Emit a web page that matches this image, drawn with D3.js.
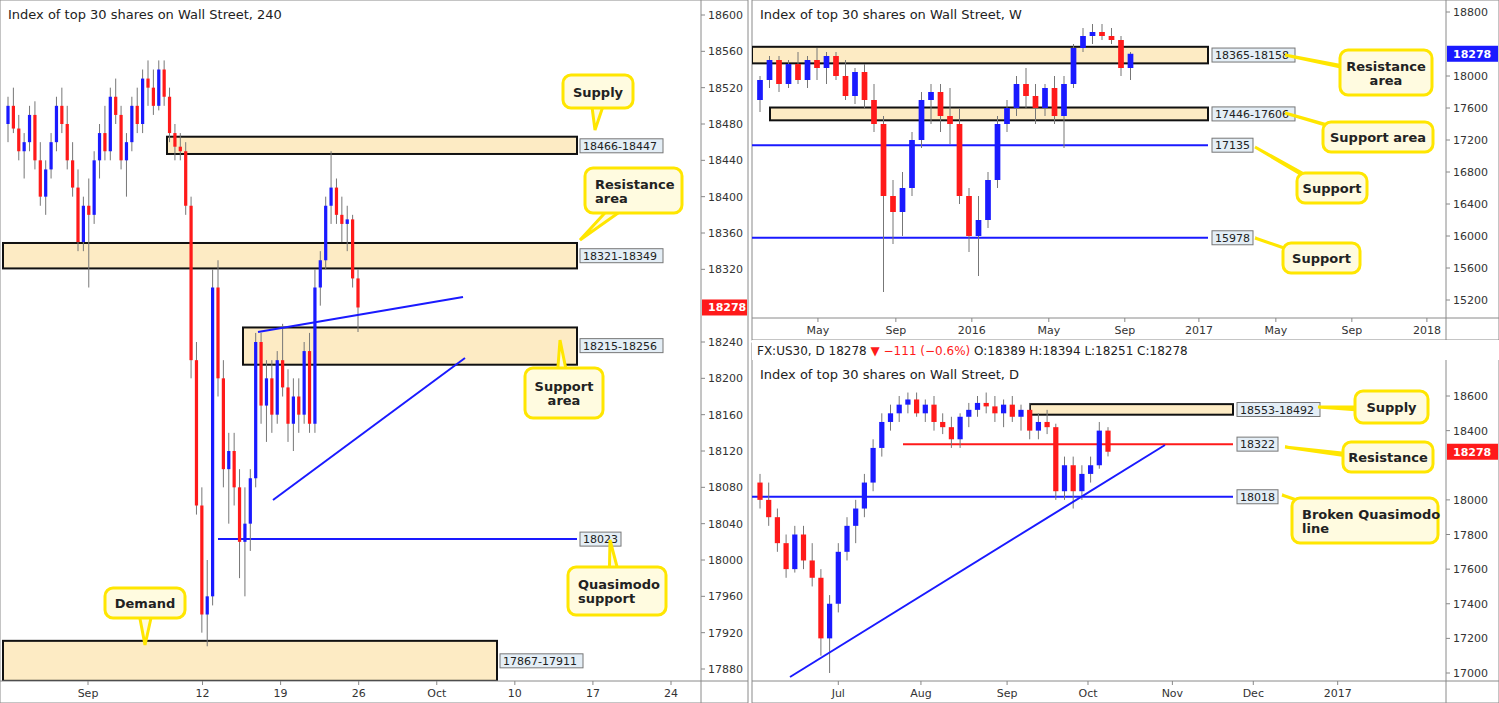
<!DOCTYPE html>
<html><head><meta charset="utf-8">
<script src="https://cdn.jsdelivr.net/npm/d3@7"></script>
<style>body{margin:0;background:#fff;font-family:"DejaVu Sans",sans-serif}</style>
</head><body>
<svg id="c" width="1499" height="703"></svg>
<script>
// ---- data ----
var h4Candles = [
[18480,18510,18460,18500],[18500,18520,18470,18475],[18475,18490,18440,18450],[18450,18470,18420,18460],[18460,18500,18450,18490],[18490,18505,18430,18440],[18440,18460,18390,18400],[18400,18440,18380,18430],[18430,18470,18420,18460],[18460,18510,18450,18500],[18500,18520,18470,18480],[18480,18500,18430,18440],[18440,18460,18400,18410],[18410,18430,18340,18350],[18350,18400,18340,18390],[18390,18420,18300,18380],
[18380,18450,18370,18440],[18440,18480,18420,18470],[18470,18500,18440,18450],[18450,18520,18440,18510],[18510,18530,18480,18490],[18490,18500,18430,18440],[18440,18470,18400,18460],[18460,18510,18450,18500],[18500,18520,18470,18480],[18480,18540,18470,18530],[18530,18550,18500,18520],[18520,18540,18490,18500],[18500,18550,18495,18540],[18540,18550,18500,18510],[18510,18520,18460,18470],[18470,18480,18440,18455],[18455,18470,18440,18450],[18450,18460,18380,18390],
[18390,18400,18200,18220],[18220,18240,18050,18060],[18060,18080,17920,17940],[17940,18000,17905,17960],
[17960,18320,17950,18300],[18300,18330,18180,18200],[18200,18220,18080,18100],
[18100,18140,18040,18120],[18120,18140,18060,18080],[18080,18100,17980,18020],
[18020,18080,17960,18040],[18040,18100,18010,18090],[18090,18250,18080,18240],
[18240,18250,18150,18170],[18170,18220,18130,18200],[18200,18220,18140,18160],
[18160,18230,18150,18220],[18220,18260,18180,18190],[18190,18210,18130,18150],
[18150,18200,18120,18180],[18180,18200,18140,18160],[18160,18240,18150,18230],
[18230,18250,18140,18150],[18150,18320,18140,18300],[18300,18340,18280,18330],
[18330,18400,18320,18390],[18390,18450,18370,18410],[18410,18420,18370,18380],
[18380,18400,18350,18370],[18370,18390,18340,18375],[18375,18380,18300,18310],
[18310,18320,18251,18278]
];
var h4Ticks = [[16,"Sep"],[38,"12"],[53,"19"],[68,"26"],[83,"Oct"],[98,"10"],[113,"17"],[128,"24"]];

var wCandles = [
[17700,18000,17550,17950],[17950,18250,17850,18200],[18200,18250,17800,17900],[17900,18200,17850,18150],[18150,18300,17900,17950],[17950,18250,17850,18200],[18200,18350,17950,18100],[18100,18300,17900,18250],[18250,18300,17950,18000],[18000,18200,17700,17750],[17750,18100,17650,18050],[18050,18150,17600,17700],[17700,17900,17300,17400],[17400,17500,15300,16500],[16500,16700,15900,16300],[16300,16800,16000,16600],[16600,17300,16500,17200],[17200,17800,17100,17700],[17700,17900,17400,17800],[17800,17900,17300,17500],[17500,17850,17150,17400],[17400,17600,16400,16500],[16500,16600,15800,16000],[16000,16500,15500,16200],[16200,16800,16100,16700],[16700,17500,16600,17400],[17400,17700,17300,17600],[17600,18000,17500,17900],[17900,18100,17600,17750],[17750,17900,17400,17600],[17600,17900,17500,17850],[17850,18000,17400,17500],[17500,18000,17100,17900],[17900,18400,17850,18350],[18350,18600,18300,18500],[18500,18650,18400,18550],[18550,18650,18450,18500],[18500,18600,18400,18450],[18450,18500,18000,18100],[18100,18300,17950,18278]
];
var wTicks = [[6.1,"May"],[14.3,"Sep"],[22.3,"2016"],[30.4,"May"],[38.4,"Sep"],[46.2,"2017"],[54.3,"May"],[62.3,"Sep"],[70.2,"2018"]];

var dCandles = [
[18100,18150,17950,18000],[18000,18100,17850,17900],[17900,17950,17700,17750],[17750,17800,17550,17600],[17600,17850,17580,17800],[17800,17850,17600,17650],[17650,17750,17500,17550],[17550,17600,17100,17200],[17200,17450,17000,17400],[17400,17750,17350,17700],[17700,17900,17650,17850],[17850,18000,17750,17950],[17950,18150,17900,18100],[18100,18350,18050,18300],[18300,18500,18250,18450],[18450,18550,18400,18500],[18500,18600,18450,18550],[18550,18620,18500,18580],[18580,18620,18480,18500],[18500,18580,18450,18550],[18550,18600,18400,18450],[18450,18500,18380,18420],[18420,18480,18300,18350],[18350,18500,18300,18480],[18480,18560,18420,18520],[18520,18600,18480,18560],[18560,18620,18500,18540],[18540,18600,18450,18500],[18500,18580,18420,18550],[18550,18600,18450,18480],[18480,18550,18400,18520],[18520,18560,18350,18400],[18400,18500,18350,18450],[18450,18520,18380,18420],[18420,18440,18000,18050],[18050,18250,18000,18200],[18200,18250,17950,18050],[18050,18200,18000,18150],[18150,18250,18100,18200],[18200,18450,18180,18400],[18400,18420,18251,18278]
];
var dTicks = [[9,"Jul"],[18.5,"Aug"],[28.4,"Sep"],[37.7,"Oct"],[47.4,"Nov"],[56.7,"Dec"],[66.4,"2017"]];

var svg = d3.select("#c");
var ZONE = "#fdebc4", UP = "#1a1aff", DN = "#ff1a1a";

// panel helper
function panel(p) {
	var g = svg.append("g");
	g.append("rect").attr("x", p.x0).attr("y", p.y0).attr("width", p.x1 - p.x0).attr("height", p.y1 - p.y0)
		.attr("fill", "#fff").attr("stroke", "#8a8a8a");
	var plotR = p.axisX, plotB = p.y1 - 22;
	var y = d3.scaleLinear().domain(p.pd).range(p.pr);
	var x = d3.scaleLinear().domain([0, p.candles.length - 1]).range(p.xr);
	var gap = (p.xr[1] - p.xr[0]) / (p.candles.length - 1);
	var clip = "cl" + p.id;
	g.append("clipPath").attr("id", clip).append("rect").attr("x", p.x0).attr("y", p.plotTop).attr("width", plotR - p.x0).attr("height", plotB - p.plotTop);
	var pg = g.append("g").attr("clip-path", "url(#" + clip + ")");

	p.zones.forEach(function (z) {
		var yt = y(Math.max(z.a, z.b)), yb = y(Math.min(z.a, z.b));
		pg.append("rect").attr("x", z.x).attr("y", yt).attr("width", z.x2 - z.x).attr("height", yb - yt)
			.attr("fill", ZONE).attr("stroke", "#111").attr("stroke-width", 2);
	});
	p.lines.forEach(function (l) {
		pg.append("line").attr("x1", l.x).attr("x2", l.x2).attr("y1", y(l.v)).attr("y2", y(l.v))
			.attr("stroke", l.c).attr("stroke-width", 2);
	});
	var bw = Math.max(2, gap * 0.6);
	p.candles.forEach(function (c, i) {
		var col = c[3] >= c[0] ? UP : DN, cx = x(i);
		pg.append("line").attr("x1", cx).attr("x2", cx).attr("y1", y(c[1])).attr("y2", y(c[2])).attr("stroke", "#777").attr("stroke-width", 1);
		var t = y(Math.max(c[0], c[3])), b = y(Math.min(c[0], c[3]));
		pg.append("rect").attr("x", cx - bw / 2).attr("y", t).attr("width", bw).attr("height", Math.max(1, b - t)).attr("fill", col);
	});
	p.trend.forEach(function (t) {
		pg.append("line").attr("x1", t[0]).attr("y1", t[1]).attr("x2", t[2]).attr("y2", t[3]).attr("stroke", UP).attr("stroke-width", 2);
	});
	p.labels.forEach(function (l) {
		var w = l.t.length * 7 + 6;
		g.append("rect").attr("x", l.x).attr("y", y(l.v) - 7).attr("width", w).attr("height", 14)
			.attr("fill", "#e4eef6").attr("stroke", "#777");
		g.append("text").attr("x", l.x + 3).attr("y", y(l.v) + 4).attr("font-size", 11).attr("fill", "#222").text(l.t);
	});
	g.append("line").attr("x1", plotR).attr("x2", plotR).attr("y1", p.plotTop).attr("y2", p.y1).attr("stroke", "#8a8a8a");
	g.append("line").attr("x1", p.x0).attr("x2", p.x1).attr("y1", plotB).attr("y2", plotB).attr("stroke", "#8a8a8a");
	d3.range(p.pd[1], p.pd[0] + 1, p.step).forEach(function (v) {
		if (y(v) < p.plotTop + 4 || y(v) > plotB - 4) return;
		if (Math.abs(y(v) - y(18278)) < 15) return;
		g.append("line").attr("x1", plotR).attr("x2", plotR + 4).attr("y1", y(v)).attr("y2", y(v)).attr("stroke", "#888");
		g.append("text").attr("x", plotR + 7).attr("y", y(v) + 4).attr("font-size", 11).attr("fill", "#333").text(v);
	});
	p.ticks.forEach(function (t) {
		var xx = x(t[0]);
		if (xx > plotR - 10) return;
		g.append("line").attr("x1", xx).attr("x2", xx).attr("y1", plotB).attr("y2", plotB + 4).attr("stroke", "#888");
		g.append("text").attr("x", xx).attr("y", plotB + 16).attr("text-anchor", "middle").attr("font-size", 11).attr("fill", "#333").text(t[1]);
	});
	g.append("rect").attr("x", plotR + 1).attr("y", y(18278) - 8).attr("width", p.x1 - plotR - 2).attr("height", 16).attr("fill", p.lastCol);
	g.append("text").attr("x", plotR + 7).attr("y", y(18278) + 4).attr("font-size", 11).attr("font-weight", "bold").attr("fill", "#fff").text("18278");
	g.append("text").attr("x", p.x0 + 8).attr("y", p.plotTop + 19).attr("font-size", 13).attr("fill", "#222").text(p.title);
	p.callouts.forEach(function (c) {
		var cg = g.append("g");
		var mx = c.x + c.w / 2, my = c.y + c.h / 2;
		cg.append("path").attr("d", "M" + (mx - 8) + "," + my + "L" + c.px + "," + c.py + "L" + (mx + 8) + "," + (my + 6) + "Z")
			.attr("fill", "#fffbe0").attr("stroke", "#ffe600").attr("stroke-width", 3);
		cg.append("rect").attr("x", c.x).attr("y", c.y).attr("width", c.w).attr("height", c.h).attr("rx", 8)
			.attr("fill", "#fffbe0").attr("stroke", "#ffe600").attr("stroke-width", 3);
		var lines = c.t.split("\n");
		lines.forEach(function (s, i) {
			cg.append("text").attr("x", c.x + (c.left ? 10 : c.w / 2)).attr("text-anchor", c.left ? "start" : "middle")
				.attr("y", my + 5 + (i - (lines.length - 1) / 2) * 14).attr("font-size", 13).attr("font-weight", "bold").attr("fill", "#222").text(s);
		});
	});
}

panel({ id: "a", x0: 0, y0: 0, x1: 748, y1: 703, plotTop: 0, axisX: 701, candles: h4Candles,
	xr: [8, 358], pd: [18600, 17880], pr: [15, 669], step: 40, ticks: [], lastCol: DN,
	title: "Index of top 30 shares on Wall Street, 240",
	zones: [{ a: 18466, b: 18447, x: 167, x2: 577 }, { a: 18321, b: 18349, x: 3, x2: 577 }, { a: 18215, b: 18256, x: 243, x2: 577 }, { a: 17867, b: 17911, x: 3, x2: 497 }],
	lines: [{ v: 18023, x: 218, x2: 577, c: UP }],
	trend: [[258, 332, 463, 297], [273, 500, 465, 358]],
	labels: [{ v: 18456, t: "18466-18447", x: 580 }, { v: 18335, t: "18321-18349", x: 580 }, { v: 18236, t: "18215-18256", x: 580 }, { v: 18023, t: "18023", x: 580 }, { v: 17889, t: "17867-17911", x: 500 }],
	callouts: [
		{ t: "Supply", x: 563, y: 75, w: 70, h: 33, px: 595, py: 130 },
		{ t: "Resistance\narea", x: 585, y: 168, w: 97, h: 45, px: 580, py: 240, left: 1 },
		{ t: "Support\narea", x: 525, y: 368, w: 78, h: 50, px: 560, py: 340 },
		{ t: "Quasimodo\nsupport", x: 568, y: 567, w: 98, h: 48, px: 610, py: 540, left: 1 },
		{ t: "Demand", x: 105, y: 588, w: 80, h: 30, px: 145, py: 645 }]
});
// 4H date ticks (78px per week, Sep 1 at x 88)
var h4x = d3.scaleLinear().domain([16, 128]).range([88, 671]);
h4Ticks.forEach(function (t) {
	svg.append("line").attr("x1", h4x(t[0])).attr("x2", h4x(t[0])).attr("y1", 681).attr("y2", 685).attr("stroke", "#888");
	svg.append("text").attr("x", h4x(t[0])).attr("y", 697).attr("text-anchor", "middle").attr("font-size", 11).attr("fill", "#333").text(t[1]);
});

panel({ id: "b", x0: 752, y0: 0, x1: 1499, y1: 340, plotTop: 0, axisX: 1446, candles: wCandles,
	xr: [760, 760 + (wCandles.length - 1) * 9.5], pd: [18800, 15200], pr: [12, 300], step: 400, ticks: wTicks, lastCol: UP,
	title: "Index of top 30 shares on Wall Street, W",
	zones: [{ a: 18365, b: 18158, x: 752, x2: 1208 }, { a: 17446, b: 17606, x: 770, x2: 1208 }],
	lines: [{ v: 17135, x: 752, x2: 1208, c: UP }, { v: 15978, x: 752, x2: 1208, c: UP }],
	trend: [],
	labels: [{ v: 18262, t: "18365-18158", x: 1212 }, { v: 17526, t: "17446-17606", x: 1212 }, { v: 17135, t: "17135", x: 1212 }, { v: 15978, t: "15978", x: 1212 }],
	callouts: [
		{ t: "Resistance\narea", x: 1340, y: 50, w: 92, h: 45, px: 1285, py: 55 },
		{ t: "Support area", x: 1323, y: 122, w: 110, h: 30, px: 1285, py: 113 },
		{ t: "Support", x: 1297, y: 173, w: 70, h: 30, px: 1255, py: 147 },
		{ t: "Support", x: 1283, y: 243, w: 77, h: 30, px: 1255, py: 238 }]
});

panel({ id: "c", x0: 752, y0: 343, x1: 1499, y1: 703, plotTop: 360, axisX: 1446, candles: dCandles,
	xr: [760, 760 + (dCandles.length - 1) * 8.7], pd: [18600, 17000], pr: [396, 673], step: 200, ticks: dTicks, lastCol: DN,
	title: "Index of top 30 shares on Wall Street, D",
	zones: [{ a: 18553, b: 18492, x: 1030, x2: 1233 }],
	lines: [{ v: 18322, x: 903, x2: 1233, c: DN }, { v: 18018, x: 752, x2: 1233, c: UP }],
	trend: [[790, 677, 1165, 445]],
	labels: [{ v: 18522, t: "18553-18492", x: 1237 }, { v: 18322, t: "18322", x: 1237 }, { v: 18018, t: "18018", x: 1237 }],
	callouts: [
		{ t: "Supply", x: 1355, y: 391, w: 73, h: 32, px: 1318, py: 407 },
		{ t: "Resistance", x: 1343, y: 442, w: 90, h: 30, px: 1285, py: 447 },
		{ t: "Broken Quasimodo\nline", x: 1292, y: 498, w: 146, h: 45, px: 1282, py: 495, left: 1 }]
});

svg.append("rect").attr("x", 752).attr("y", 340).attr("width", 747).attr("height", 20).attr("fill", "#fff");
var hd = svg.append("text").attr("x", 757).attr("y", 355).attr("font-size", 12).attr("fill", "#222");
hd.append("tspan").text("FX:US30, D  18278 ");
hd.append("tspan").attr("fill", DN).text("▼ −111 (−0.6%)");
hd.append("tspan").text("  O:18389  H:18394  L:18251  C:18278");
</script>
</body></html>
